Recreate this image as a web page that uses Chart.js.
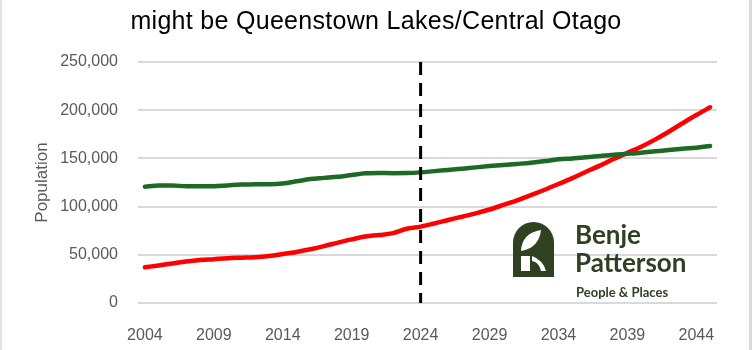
<!DOCTYPE html>
<html>
<head>
<meta charset="utf-8">
<script src="https://cdn.jsdelivr.net/npm/chart.js@4"></script>
<style>
  body { margin: 0; background: #fff; }
  #wrap { position: relative; width: 752px; height: 350px; overflow: hidden; }
  #wrap canvas { position: absolute; left: 0; top: 0; }
  .edge { position: absolute; top: 0; height: 350px; background: #d9d9d9; }
  #title { position: absolute; left: 0; width: 752px; top: 5px; text-align: center; font: 25px "Liberation Sans", Arial, sans-serif; letter-spacing: 0.3px; color: #000; white-space: nowrap; line-height: 1.2; }
  .logo { position: absolute; color: #2f4121; font-family: Lato, "Noto Sans", sans-serif; font-weight: 700; line-height: 1; white-space: nowrap; }
</style>
</head>
<body>
<div id="wrap">
  <canvas id="chart"></canvas>
  <div class="edge" style="left:0;width:2px;background:#e3e3e3"></div>
  <div class="edge" style="left:749px;width:3px"></div>
  <div id="title">might be Queenstown Lakes/Central Otago</div>
  <svg class="logo" style="left:513px;top:222px" width="41" height="55" viewBox="0 0 41 55">
    <path d="M0,55 V20.5 A20.5,20.5 0 0 1 41,20.5 V55 Z" fill="#2f4121"/>
    <path d="M8,29 Q9,11 28,8 Q26,26 8,29 Z" fill="#fff"/>
    <path d="M8,34 H17 V49 H8 Z" fill="#fff"/>
    <path d="M19,34 Q30,38 33,49 H28 Q26,40 19,39 Z" fill="#fff"/>
  </svg>
  <div class="logo" style="left:575px;top:221px;font-size:26px">Benje</div>
  <div class="logo" style="left:575px;top:249px;font-size:26px">Patterson</div>
  <div class="logo" style="left:576px;top:286px;font-size:13px">People &amp; Places</div>
</div>
<script>
// years on the axis
const years = [];
for (let y = 2004; y <= 2045; y++) years.push(String(y));

// red series
const redSeries = [
  37000, 39000, 41000, 43000, 44500, 45500, 46500, 47000, 47500, 48800,
  50800, 53000, 55700, 59000, 62600, 66000, 69000, 70500, 72500, 77000,
  79200, 82500, 86100, 89500, 93000, 97000, 101700, 106500, 112000, 117500,
  123400, 129500, 136200, 142500, 149400, 155800, 162100, 169500, 177700, 186500,
  195000, 203000
];

// green series
const greenSeries = [
  120700, 121800, 122000, 121000, 121000, 121200, 122000, 122800, 123200, 123300,
  124000, 126200, 128600, 129800, 131000, 132800, 134500, 134800, 134700, 134800,
  135500, 136800, 138000, 139200, 140700, 142000, 143200, 144300, 145500, 147200,
  149000, 150000, 151100, 152500, 153800, 154800, 155900, 157300, 158700, 160000,
  161100, 162900
];

const yTicks = [0, 50000, 100000, 150000, 200000, 250000];
const markerYear = "2024";

// dashed line at the base year
const markerLine = {
  id: "markerLine",
  afterDatasetsDraw(chart) {
    const { ctx, chartArea, scales } = chart;
    const x = scales.x.getPixelForValue(years.indexOf(markerYear));
    ctx.save();
    ctx.strokeStyle = "#000";
    ctx.lineWidth = 3;
    ctx.setLineDash([13, 8]);
    ctx.beginPath();
    ctx.moveTo(x, chartArea.top);
    ctx.lineTo(x, chartArea.bottom);
    ctx.stroke();
    ctx.restore();
  }
};

const tickFont = { family: "'Liberation Sans', Arial, sans-serif", size: 16 };

new Chart(document.getElementById("chart"), {
  type: "line",
  data: {
    labels: years,
    datasets: [
      { data: greenSeries, borderColor: "#1d6a24", borderWidth: 4.5, pointRadius: 0, cubicInterpolationMode: "monotone", borderCapStyle: "round" },
      { data: redSeries, borderColor: "#ff0000", borderWidth: 4.5, pointRadius: 0, cubicInterpolationMode: "monotone", borderCapStyle: "round" }
    ]
  },
  options: {
    responsive: true,
    maintainAspectRatio: false,
    animation: false,
    layout: { padding: { top: 62, right: 35, left: 0, bottom: 0 } },
    plugins: { legend: { display: false }, tooltip: { enabled: false } },
    scales: {
      x: {
        offset: true,
        grid: { display: false },
        border: { display: false },
        ticks: {
          autoSkip: false, maxRotation: 0, padding: 15, color: "#595959", font: tickFont,
          callback: (v, i) => (i % 5 === 0 ? years[i] : "")
        },
        afterFit: s => { s.height = 47; }
      },
      y: {
        min: 0, max: 250000,
        afterBuildTicks: s => { s.ticks = yTicks.map(v => ({ value: v })); },
        grid: { color: "#d9d9d9", lineWidth: 2, drawTicks: false },
        border: { display: false },
        ticks: { padding: 20, color: "#595959", font: tickFont, callback: v => v.toLocaleString("en-US") },
        title: { display: true, text: "Population", color: "#595959", font: { family: "'Liberation Sans', Arial, sans-serif", size: 17 }, padding: { top: 32, bottom: 0 } },
        afterFit: s => { s.width = 138; }
      }
    }
  },
  plugins: [markerLine]
});
</script>
</body>
</html>
